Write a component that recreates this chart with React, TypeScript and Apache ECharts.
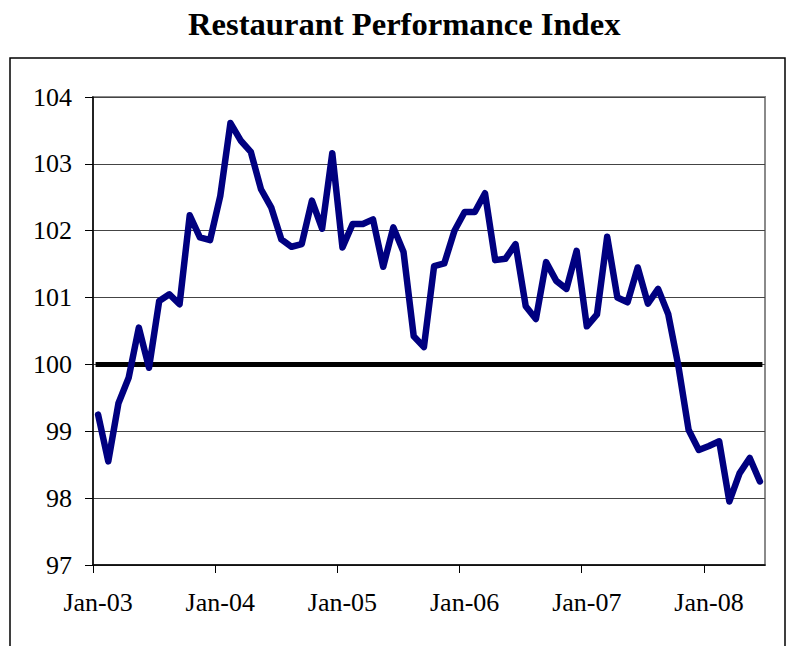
import React, { useEffect, useRef } from "react";
import * as echarts from "echarts";

const monthNames = ["Jan", "Feb", "Mar", "Apr", "May", "Jun", "Jul", "Aug", "Sep", "Oct", "Nov", "Dec"];
const years = ["03", "04", "05", "06", "07", "08"];
const categories: string[] = [];
years.forEach((y) => monthNames.forEach((m) => categories.push(`${m}-${y}`)));
const months = categories.slice(0, 66); // Jan-03 .. Jun-08

const indexValues = [
  99.25, 98.55, 99.42, 99.8, 100.55, 99.95, 100.95, 101.05, 100.9, 102.23,
  101.9, 101.86, 102.52, 103.61, 103.35, 103.18, 102.62, 102.35, 101.87, 101.76,
  101.8, 102.45, 102.03, 103.16, 101.75, 102.1, 102.1, 102.17, 101.46, 102.05,
  101.68, 100.42, 100.26, 101.47, 101.51, 102.0, 102.28, 102.28, 102.56, 101.56,
  101.58, 101.8, 100.87, 100.68, 101.53, 101.25, 101.13, 101.7, 100.57, 100.75,
  101.91, 101.0, 100.93, 101.45, 100.91, 101.13, 100.75, 99.97, 99.02, 98.72,
  98.78, 98.85, 97.95, 98.37, 98.6, 98.25,
];

const baseline = 100;
const baselineValues = months.map(() => baseline);

// January boundaries (month index) where the x-axis ticks sit
const yearTickPositions = [0, 12, 24, 36, 48, 60];

const yMin = 97;
const yMax = 104;
const yStep = 1;

const FONT = "Liberation Serif";

export default function App() {
  const ref = useRef<HTMLDivElement>(null);
  useEffect(() => {
    if (!ref.current) return;
    const chart = echarts.init(ref.current, undefined, { renderer: "svg" });
    chart.setOption({
      animation: false,
      backgroundColor: "#fff",
      title: {
        text: "Restaurant Performance Index",
        left: 188,
        top: 7,
        padding: 0,
        textStyle: { fontFamily: FONT, fontWeight: "bold", fontSize: 32.6, color: "#000" },
      },
      graphic: [
        {
          type: "rect",
          shape: { x: 10, y: 58, width: 775, height: 640 },
          style: { fill: "none", stroke: "#000", lineWidth: 1.5 },
          silent: true,
          z: 0,
        },
      ],
      grid: {
        left: 93,
        right: 26,
        top: 97,
        bottom: 81,
        show: true,
        borderColor: "#8a8a8a",
        borderWidth: 2,
        backgroundColor: "transparent",
      },
      xAxis: [
        {
          type: "category",
          data: months,
          boundaryGap: true,
          axisLine: { show: true, lineStyle: { color: "#000", width: 1.5 } },
          axisTick: { show: false },
          axisLabel: { interval: 11, fontFamily: FONT, fontSize: 26, color: "#000", margin: 24 },
          splitLine: { show: false },
        },
        {
          type: "value",
          position: "bottom",
          min: 0,
          max: months.length,
          axisLine: { show: false },
          axisTick: {
            show: true,
            length: 8,
            customValues: yearTickPositions,
            lineStyle: { color: "#000", width: 1 },
          },
          axisLabel: { show: false },
          splitLine: { show: false },
        },
      ],
      yAxis: {
        type: "value",
        min: yMin,
        max: yMax,
        interval: yStep,
        axisLine: { show: true, lineStyle: { color: "#000", width: 1.5 } },
        axisTick: { show: true, length: 8, lineStyle: { color: "#000", width: 1 } },
        axisLabel: { fontFamily: FONT, fontSize: 26, color: "#000", margin: 21 },
        splitLine: { show: true, lineStyle: { color: "#444", width: 1 } },
      },
      series: [
        {
          type: "line",
          xAxisIndex: 0,
          data: baselineValues,
          symbol: "none",
          lineStyle: { color: "#000", width: 5, cap: "square" },
          z: 2,
          silent: true,
        },
        {
          type: "line",
          xAxisIndex: 0,
          data: indexValues,
          symbol: "none",
          lineStyle: { color: "#000080", width: 6.5, join: "round", cap: "round" },
          z: 3,
        },
      ],
    });
    return () => chart.dispose();
  }, []);
  return (
    <div
      ref={ref}
      style={{ position: "fixed", left: 0, top: 0, width: 791, height: 646 }}
    />
  );
}
